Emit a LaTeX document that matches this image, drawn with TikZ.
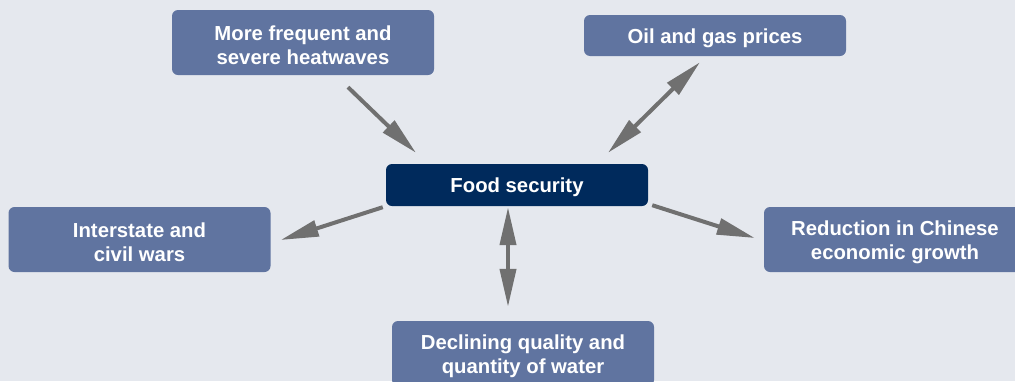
\documentclass[tikz,border=0pt]{standalone}
\usepackage{fontspec}
\setmainfont{Liberation Sans}
\usetikzlibrary{arrows.meta}
\definecolor{bg}{RGB}{229,232,238}
\definecolor{boxc}{RGB}{96,116,160}
\definecolor{foodc}{RGB}{0,42,92}
\definecolor{arrc}{RGB}{112,112,112}
\newcommand{\tallrule}{\rule{0pt}{20pt}}
\begin{document}
\begin{tikzpicture}[x=1pt,y=-1pt,
  box/.style={fill=boxc, rounded corners=6pt, text=white,
    font=\bfseries\fontsize{20.3}{24.5}\selectfont, align=center,
    minimum width=262pt, inner sep=0pt},
  twoline/.style={box, minimum height=65pt},
  oneline/.style={box, minimum height=41pt},
  centre/.style={box, fill=foodc, minimum height=42pt},
  tipx/.tip={Triangle[length=38pt,width=16pt]},
  arr/.style={draw=arrc, line width=4pt, -tipx},
  darr/.style={draw=arrc, line width=4pt, tipx-tipx}]
\fill[bg] (0,0) rectangle (1015,381);
\useasboundingbox (0,0) rectangle (1015,381);
\clip (0,0) rectangle (1015,381);

\node[twoline] (heat) at (303,42.5) {\tallrule More frequent and\\severe heatwaves};
\node[oneline] (oil) at (715,35.5) {\tallrule Oil and gas prices};
\node[centre] (food) at (517,185) {\tallrule Food security};
\node[twoline] (wars) at (139.5,239.5) {\tallrule Interstate and\\civil wars};
\node[twoline] (china) at (895,239.5) {\tallrule Reduction in Chinese\\economic growth};
\node[twoline] (water) at (523,353.5) {\tallrule Declining quality and\\quantity of water};

\draw[arr] ([shift={(45,12)}]heat.south) -- ([shift={(-101,-11)}]food.north);
\draw[darr] ([shift={(-15,6)}]oil.south) -- ([shift={(91,-11)}]food.north);
\draw[arr] ([shift={(-3,1)}]food.south west) -- ([shift={(10,0.5)}]wars.east);
\draw[arr] ([shift={(4,-1)}]food.south east) -- ([shift={(-9,-1.5)}]china.west);
\draw[darr] ([shift={(-9,1)}]food.south) -- ([shift={(-15,-14)}]water.north);
\end{tikzpicture}
\end{document}
